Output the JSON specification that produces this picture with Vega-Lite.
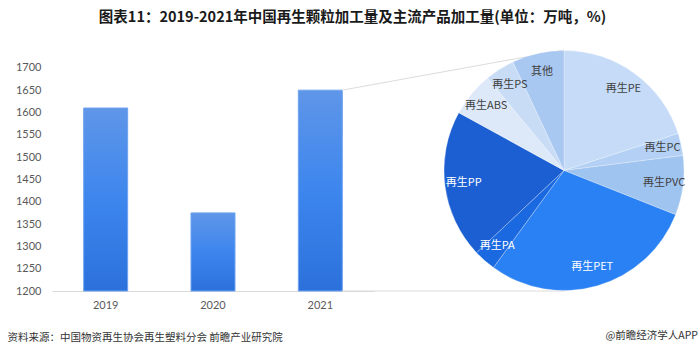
{
  "$schema": "https://vega.github.io/schema/vega-lite/v6.json",
  "background": "white",
  "padding": {"left": 7, "top": 9, "right": 2, "bottom": 0},
  "bounds": "flush",
  "spacing": 65,
  "title": {
    "text": "图表11：2019-2021年中国再生颗粒加工量及主流产品加工量(单位：万吨，%)",
    "font": "Noto Sans CJK SC",
    "fontSize": 14.5,
    "fontWeight": "bold",
    "color": "#1a1a1a",
    "anchor": "middle",
    "frame": "bounds",
    "offset": 24
  },
  "config": {"view": {"stroke": null}, "font": "Noto Sans CJK SC"},
  "datasets": {
    "pie": [
      {"name": "再生PE", "share": 20, "rank": 1},
      {"name": "再生PC", "share": 3, "rank": 2},
      {"name": "再生PVC", "share": 8, "rank": 3},
      {"name": "再生PET", "share": 29, "rank": 4},
      {"name": "再生PA", "share": 3, "rank": 5},
      {"name": "再生PP", "share": 20, "rank": 6},
      {"name": "再生ABS", "share": 6, "rank": 7},
      {"name": "再生PS", "share": 4, "rank": 8},
      {"name": "其他", "share": 7, "rank": 9}
    ]
  },
  "hconcat": [
    {
      "width": 322,
      "height": 241,
      "data": {"values": [
        {"year": "2019", "value": 1610},
        {"year": "2020", "value": 1375},
        {"year": "2021", "value": 1650}
      ]},
      "mark": {
        "type": "bar",
        "color": {
          "gradient": "linear",
          "x1": 0, "y1": 0, "x2": 0, "y2": 1,
          "stops": [
            {"offset": 0, "color": "#5f96e8"},
            {"offset": 0.5, "color": "#3d86ee"},
            {"offset": 1, "color": "#2c71db"}
          ]
        },
        "stroke": "#6fa3f0",
        "strokeWidth": 1
      },
      "encoding": {
        "x": {
          "field": "year",
          "type": "nominal",
          "scale": {"paddingInner": 0.59, "paddingOuter": 0.295},
          "axis": {
            "labelAngle": 0,
            "ticks": false,
            "domainColor": "#d9d9d9",
            "labelColor": "#595959",
            "labelFont": "Lato",
            "labelFontSize": 11,
            "labelPadding": 8,
            "title": "资料来源：中国物资再生协会再生塑料分会 前瞻产业研究院",
            "titleX": -45,
            "titleY": 46,
            "titleAlign": "left",
            "titleBaseline": "middle",
            "titleFont": "Noto Sans CJK SC",
            "titleFontSize": 10.5,
            "titleFontWeight": "normal",
            "titleColor": "#333333"
          }
        },
        "y": {
          "field": "value",
          "type": "quantitative",
          "scale": {"domain": [1200, 1740], "nice": false, "zero": false},
          "axis": {
            "values": [1200, 1250, 1300, 1350, 1400, 1450, 1500, 1550, 1600, 1650, 1700],
            "format": "d",
            "title": null,
            "domain": false,
            "ticks": false,
            "grid": false,
            "labelColor": "#595959",
            "labelFont": "Lato",
            "labelFontSize": 11,
            "labelPadding": 11
          }
        },
        "y2": {"datum": 1200}
      }
    },
    {
      "width": 250,
      "height": 241,
      "title": {
        "text": "@前瞻经济学人APP",
        "orient": "bottom",
        "anchor": "end",
        "dx": 9,
        "offset": 39,
        "font": "Noto Sans CJK SC",
        "fontSize": 10.5,
        "fontWeight": "normal",
        "color": "#333333"
      },
      "layer": [
        {
          "data": {"values": [{}]},
          "mark": {"type": "rule", "color": "#dcdcdc", "strokeWidth": 1},
          "encoding": {
            "x": {"datum": -1.776, "type": "quantitative", "scale": {"domain": [-1, 1]}, "axis": null},
            "x2": {"datum": 0},
            "y": {"datum": 1650, "type": "quantitative", "scale": {"domain": [1200, 1740], "nice": false, "zero": false}, "axis": null},
            "y2": {"datum": 1740}
          }
        },
        {
          "data": {"values": [{}]},
          "mark": {"type": "rule", "color": "#dcdcdc", "strokeWidth": 1},
          "encoding": {
            "x": {"datum": -1.776, "type": "quantitative", "scale": {"domain": [-1, 1]}, "axis": null},
            "x2": {"datum": 0},
            "y": {"datum": 1200, "type": "quantitative", "scale": {"domain": [1200, 1740], "nice": false, "zero": false}, "axis": null},
            "y2": {"datum": 1200}
          }
        },
        {
          "data": {"name": "pie"},
          "mark": {"type": "arc", "outerRadius": 120, "stroke": "#ffffff", "strokeWidth": 0.6, "strokeOpacity": 0.45},
          "encoding": {
            "theta": {"field": "share", "type": "quantitative", "stack": true},
            "order": {"field": "rank", "type": "quantitative"},
            "color": {
              "field": "name",
              "type": "nominal",
              "scale": {
                "domain": ["再生PE", "再生PC", "再生PVC", "再生PET", "再生PA", "再生PP", "再生ABS", "再生PS", "其他"],
                "range": ["#c5dbf7", "#b4d0f4", "#a0c4f0", "#2a81f4", "#1b69e0", "#1b5fd2", "#dde9f9", "#c9dcf6", "#a9c8f1"]
              },
              "legend": null
            }
          }
        },
        {
          "data": {"name": "pie"},
          "mark": {"type": "text", "radius": 101, "font": "Noto Sans CJK SC", "fontSize": 11},
          "encoding": {
            "theta": {"field": "share", "type": "quantitative", "stack": true},
            "order": {"field": "rank", "type": "quantitative"},
            "text": {"field": "name", "type": "nominal"},
            "color": {
              "condition": {"test": "indexof(['再生PET','再生PA','再生PP'], datum.name) >= 0", "value": "#ffffff"},
              "value": "#404040"
            }
          }
        }
      ]
    }
  ]
}
